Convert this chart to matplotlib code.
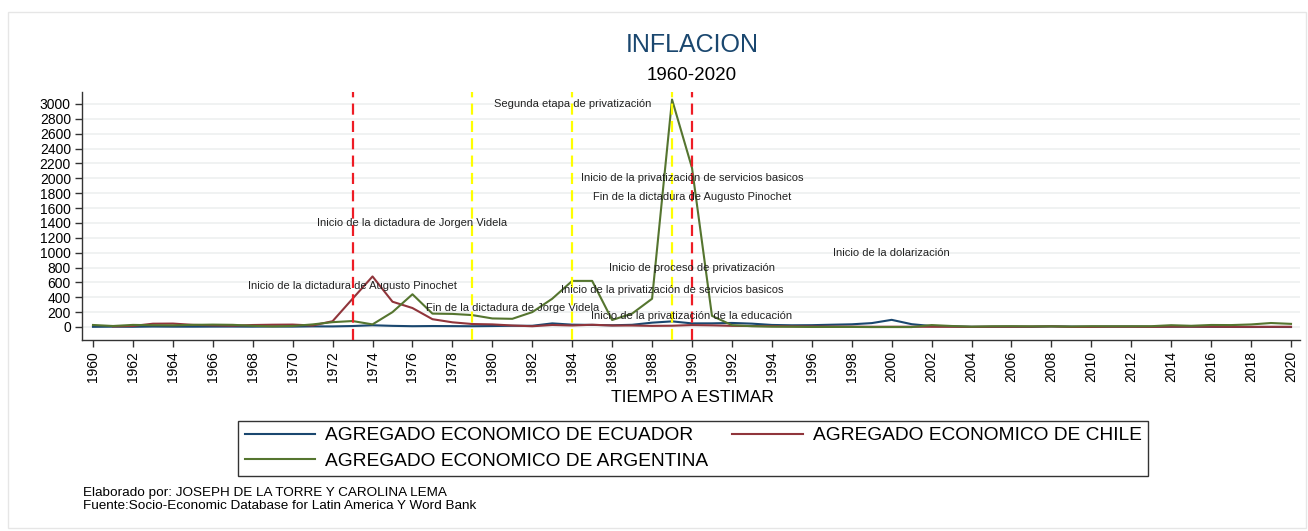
import numpy as np
import matplotlib
matplotlib.use("Agg")
import matplotlib.pyplot as plt
from matplotlib.patches import Rectangle

plt.rcParams['font.family'] = ['Liberation Sans', 'DejaVu Sans']

years = list(range(1960, 2021))

ecuador = [2.4, 4.2, 2.8, 6.0, 4.4, 4.1, 5.2, 5.6, 4.4, 6.4,
           5.1, 8.4, 7.9, 13.0, 23.3, 15.3, 10.7, 13.0, 11.7, 10.3,
           13.0, 16.4, 16.3, 48.4, 31.2, 28.0, 23.0, 29.5, 58.2, 75.6,
           48.5, 48.8, 54.3, 45.0, 27.4, 22.9, 24.4, 30.6, 36.1, 52.2,
           96.1, 37.7, 12.5, 7.9, 2.7, 2.4, 3.0, 2.3, 8.4, 5.2,
           3.6, 4.5, 5.1, 2.7, 3.6, 4.0, 1.7, 0.4, -0.2, 0.3, -0.3]

chile = [np.nan, 7.7, 13.9, 44.1, 46.0, 28.8, 22.9, 18.1, 26.6, 30.7,
         32.5, 20.1, 77.8, 380, 680, 340, 255, 105, 63, 40,
         35, 20, 10, 27, 20, 30, 20, 20, 15, 17,
         26, 22, 15.4, 12.7, 11.4, 8.2, 7.4, 6.1, 5.1, 3.3,
         3.8, 3.6, 2.5, 2.8, 1.1, 3.1, 3.4, 4.4, 8.7, 0.4,
         1.4, 3.3, 3.0, 1.8, 4.7, 4.3, 3.8, 2.2, 2.4, 2.6, 3.0]

argentina = [27, 13.5, 28, 24, 22, 28.6, 32, 29, 16, 7.6,
             13.6, 34.7, 65, 80, 35, 200, 440, 180, 176, 160,
             115, 110, 200, 380, 620, 620, 94, 180, 380, 3060,
             2140, 150, 25, 10.6, 4.2, 3.4, 0.2, 0.5, 0.9, -1.2,
             -0.9, -1.1, 25.9, 13.4, 4.4, 9.6, 10.9, 8.8, 8.6, 6.3,
             10.5, 9.8, 10.0, 10.6, 24, 16, 27, 25.7, 34.3, 53.5, 42]

series_names = ["AGREGADO ECONOMICO DE ECUADOR",
                "AGREGADO ECONOMICO DE CHILE",
                "AGREGADO ECONOMICO DE ARGENTINA"]

red_years = [1973, 1990]
yellow_years = [1979, 1984, 1989]

ann_text = ["Segunda etapa de privatización",
            "Inicio de la privatización de servicios basicos",
            "Fin de la dictadura de Augusto Pinochet",
            "Inicio de la dictadura de Jorgen Videla",
            "Inicio de la dolarización",
            "Inicio de proceso de privatización",
            "Inicio de la dictadura de Augusto Pinochet",
            "Inicio de la privatización de servicios basicos",
            "Fin de la dictadura de Jorge Videla",
            "Inicio de la privatización de la educación"]
ann_x = [1984, 1990, 1990, 1976, 2000, 1990, 1973, 1989, 1981, 1990]
ann_y = [3000, 2000, 1750, 1400, 1000, 800, 550, 500, 250, 150]

yticks = list(range(0, 3001, 200))
xticks = list(range(1960, 2021, 2))

W, H = 1308, 531
fig = plt.figure(figsize=(W / 100, H / 100), dpi=100)
fig.patch.set_facecolor("white")
fig.add_artist(Rectangle((8 / W, 3 / H), (W - 10) / W, (H - 15) / H,
                         transform=fig.transFigure, fill=False,
                         edgecolor="#e6e6e6", lw=1))

ax = fig.add_axes([82 / W, 1 - 340 / H, (1300 - 82) / W, (340 - 92) / H])
ax.set_facecolor("white")

for y in yticks:
    ax.axhline(y, color="#eef0f0", lw=1.2, zorder=0)

c_ec, c_ch, c_ar = "#1a476f", "#90353b", "#55752f"
l_ec, = ax.plot(years, ecuador, color=c_ec, lw=1.5, label=series_names[0], zorder=3)
l_ch, = ax.plot(years, chile, color=c_ch, lw=1.5, label=series_names[1], zorder=3)
l_ar, = ax.plot(years, argentina, color=c_ar, lw=1.5, label=series_names[2], zorder=3)

for x in red_years:
    ax.axvline(x, color="#ee1c25", lw=1.6, ls=(0, (5, 2.8)), zorder=4)
for x in yellow_years:
    ax.axvline(x, color="#ffff00", lw=1.6, ls=(0, (5, 2.8)), zorder=4)

for t, x, y in zip(ann_text, ann_x, ann_y):
    ax.text(x, y, t, ha="center", va="center", fontsize=8, color="#222222", zorder=5)

ax.set_xlim(1959.45, 2020.45)
ax.set_ylim(-175, 3161)
ax.set_yticks(yticks)
ax.set_yticklabels([str(v) for v in yticks], fontsize=10)
ax.set_xticks(xticks)
ax.set_xticklabels([str(v) for v in xticks], fontsize=10, rotation=90)
ax.tick_params(direction="out", length=5, width=1, color="#333333", pad=3)
for s in ["top", "right"]:
    ax.spines[s].set_visible(False)
for s in ["left", "bottom"]:
    ax.spines[s].set_color("#333333")
    ax.spines[s].set_linewidth(1)

fig.text(692 / W, 1 - 45 / H, "INFLACION", ha="center", va="center",
         fontsize=18, color="#1a476f")
fig.text(692 / W, 1 - 75 / H, "1960-2020", ha="center", va="center",
         fontsize=13.5, color="black")
fig.text(692 / W, 1 - 397 / H, "TIEMPO A ESTIMAR", ha="center", va="center",
         fontsize=12.5, color="black")

leg = fig.legend([l_ec, l_ar, l_ch],
                 [series_names[0], series_names[2], series_names[1]],
                 ncol=2, loc="center", bbox_to_anchor=(693 / W, 1 - 448.5 / H),
                 fontsize=13.8, frameon=True, fancybox=False, edgecolor="black",
                 handlelength=3.7, handletextpad=0.5, columnspacing=1.25,
                 borderpad=0.34, labelspacing=0.42, borderaxespad=0)
leg.get_frame().set_linewidth(1)

fig.text(83 / W, 1 - 493 / H, "Elaborado por: JOSEPH DE LA TORRE Y CAROLINA LEMA",
         ha="left", va="center", fontsize=9.7)
fig.text(83 / W, 1 - 506 / H, "Fuente:Socio-Economic Database for Latin America Y Word Bank",
         ha="left", va="center", fontsize=9.7)

fig.savefig("out.png", dpi=100, facecolor="white")
